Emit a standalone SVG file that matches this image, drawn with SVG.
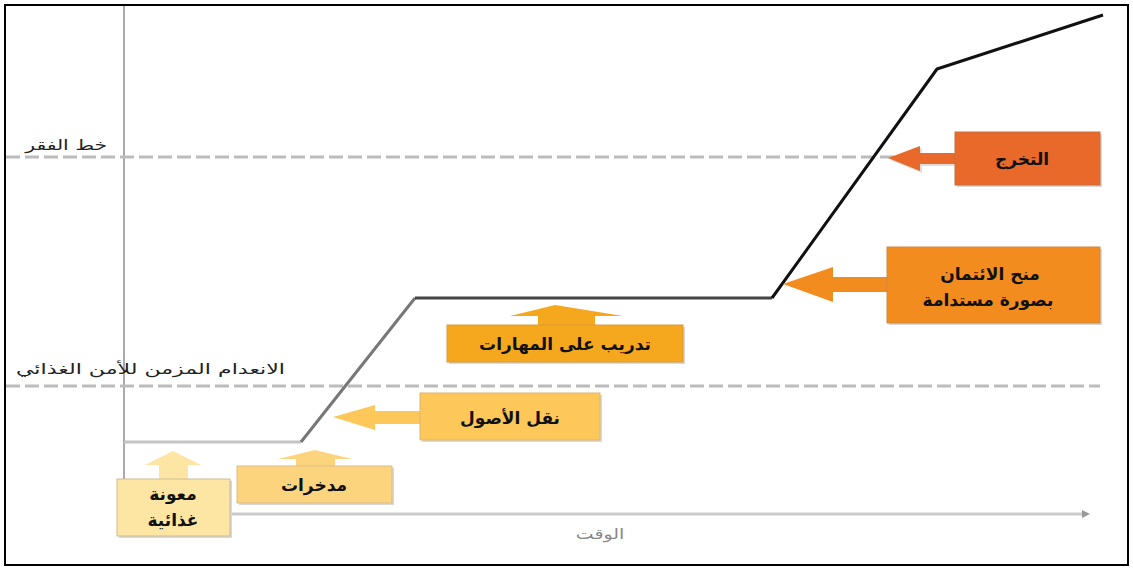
<svg xmlns="http://www.w3.org/2000/svg" width="1133" height="569" viewBox="0 0 1133 569">
<style>
text{font-family:"DejaVu Sans","Noto Sans",sans-serif}
.lbl{font-size:17px;fill:#111;font-weight:bold;text-anchor:middle}
.axlbl{font-size:14px;fill:#222;text-anchor:end}
.dash{stroke:#bcbcbc;stroke-width:3;stroke-dasharray:14 5;fill:none}
.shadow{fill:#d8d8d8}
</style>
<rect x="0" y="0" width="1133" height="569" fill="#fff"/>
<rect x="5" y="5" width="1123" height="560" fill="none" stroke="#000" stroke-width="2"/>
<g id="axes">
<line x1="124" y1="6" x2="124" y2="505" stroke="#aaa" stroke-width="2"/>
<line x1="124" y1="514" x2="1084" y2="514" stroke="#ccc" stroke-width="3"/>
<path d="M1082,510 L1090,514 L1082,518 Z" fill="#999"/>
<text transform="translate(600,539) scale(1.35,1)" font-size="14" fill="#888" text-anchor="middle">الوقت</text>
</g>
<g id="thresholds">
<line class="dash" x1="6" y1="157" x2="1100" y2="157"/>
<line class="dash" x1="6" y1="386" x2="1100" y2="386"/>
<text class="axlbl" transform="translate(107,150) scale(1.45,1)">خط الفقر</text>
<text class="axlbl" transform="translate(285,374) scale(1.58,1)">الانعدام المزمن للأمن الغذائي</text>
</g>
<g id="connectors" fill="none" stroke-linejoin="round">
<polyline points="124,442 301,442" stroke="#c4c4c4" stroke-width="3"/>
<polyline points="301,442 415,298" stroke="#777" stroke-width="3"/>
<polyline points="415,298 772,298" stroke="#444" stroke-width="3"/>
<polyline points="772,298 937,69 1103,15" stroke="#111" stroke-width="3"/>
</g>
<g id="graduation">
<path d="M888,158 L920,146 L920,153 L955,153 L955,164 L920,164 L920,171 Z" fill="#ddd" transform="translate(2,2)"/>
<rect x="957" y="134" width="145" height="53" class="shadow"/>
<path d="M888,158 L920,146 L920,153 L955,153 L955,164 L920,164 L920,171 Z" fill="#E8692A"/>
<rect x="955" y="132" width="145" height="53" fill="#E8692A" stroke="#c8703f" stroke-width="1"/>
<text class="lbl" x="1022" y="165" font-size="19">التخرج</text>
</g>
<g id="credit">
<rect x="889" y="249" width="213" height="76" class="shadow"/>
<path d="M783,284 L833,267 L833,277 L887,277 L887,292 L833,292 L833,302 Z" fill="#F28C1E"/>
<rect x="887" y="247" width="213" height="76" fill="#F28C1E" stroke="#c98a48" stroke-width="1"/>
<text class="lbl" x="990" y="280">منح الائتمان</text>
<text class="lbl" x="988" y="306">بصورة مستدامة</text>
</g>
<g id="skills">
<rect x="449" y="327" width="236" height="37" class="shadow"/>
<path d="M555,305 L623,316 L595,316 L595,326 L538,326 L538,316 L510,316 Z" fill="#F5A81E"/>
<rect x="447" y="325" width="236" height="37" fill="#F5A81E" stroke="#d99a3a" stroke-width="1"/>
<text class="lbl" x="565" y="350">تدريب على المهارات</text>
</g>
<g id="assets">
<rect x="422" y="395" width="180" height="47" class="shadow"/>
<path d="M333,417 L375,405 L375,411 L420,411 L420,424 L375,424 L375,430 Z" fill="#FDC75A"/>
<rect x="420" y="393" width="180" height="47" fill="#FDC75A" stroke="#dcb670" stroke-width="1"/>
<text class="lbl" x="510" y="424" font-size="19">نقل الأصول</text>
</g>
<g id="savings">
<rect x="239" y="468" width="155" height="37" class="shadow"/>
<path d="M315,450 L352,459 L335,459 L335,467 L296,467 L296,459 L278,459 Z" fill="#FDD47E"/>
<rect x="237" y="466" width="155" height="37" fill="#FDD47E" stroke="#d9bd85" stroke-width="1"/>
<text class="lbl" x="314" y="491" font-weight="normal">مدخرات</text>
</g>
<g id="food-aid">
<rect x="119" y="481" width="113" height="57" class="shadow"/>
<path d="M173,451 L201,465 L188,465 L188,480 L159,480 L159,465 L145,465 Z" fill="#FDE6A3"/>
<rect x="117" y="479" width="113" height="57" fill="#FDE6A3" stroke="#cbbb95" stroke-width="1"/>
<text class="lbl" x="173" y="500" font-weight="normal">معونة</text>
<text class="lbl" x="173" y="526" font-weight="normal">غذائية</text>
</g>
</svg>
